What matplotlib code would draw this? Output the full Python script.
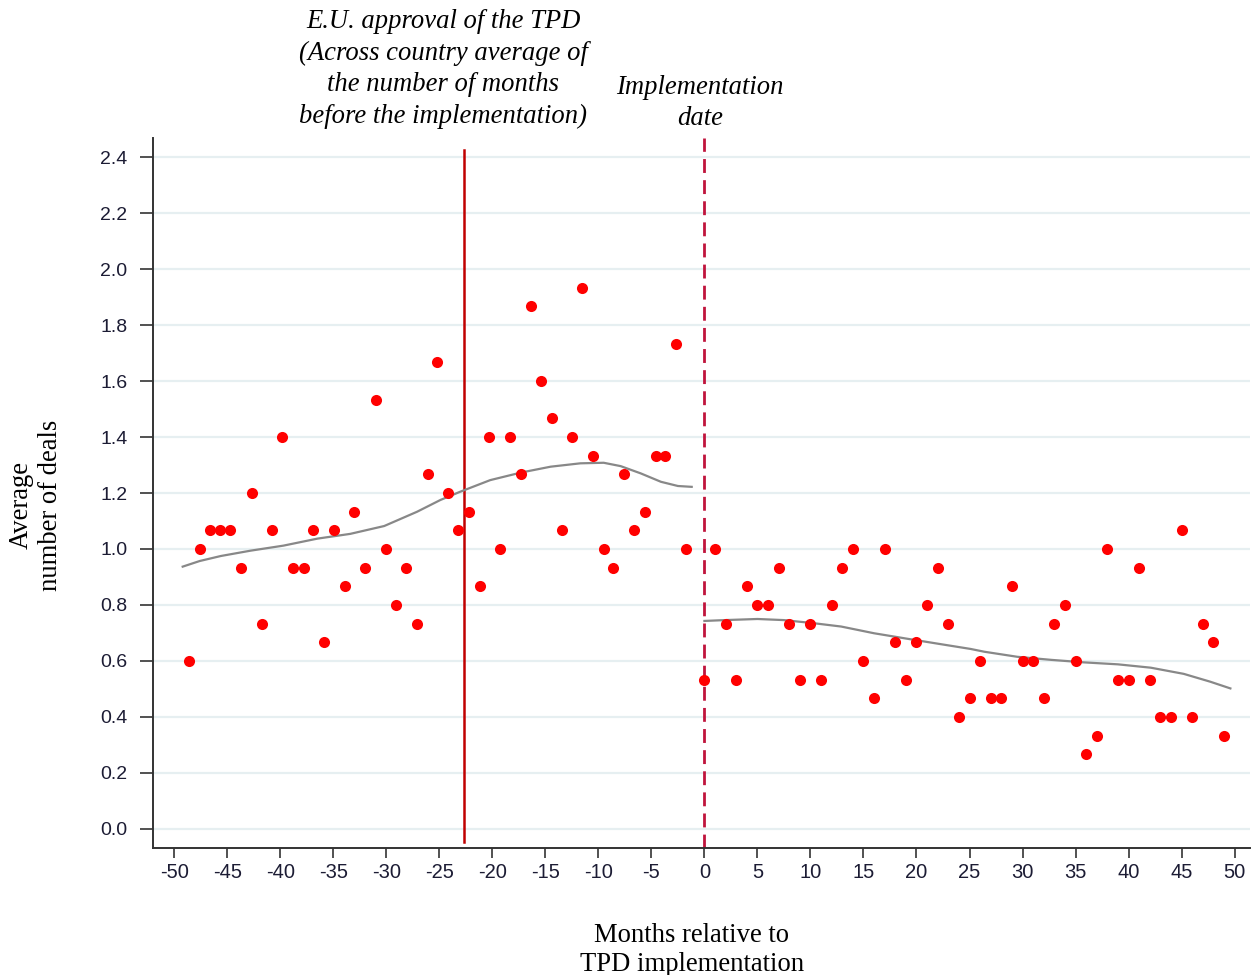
"""
Average number of deals around the TPD implementation date:
monthly scatter with a smoothed fit on each side of the cut-off.
"""

import matplotlib

matplotlib.use("Agg")
import matplotlib.pyplot as plt

# --- data ------------------------------------------------------------------
# months before implementation (left of the cut-off)
pre_months = [
    -48.6, -47.6, -46.6, -45.7, -44.7, -43.7, -42.7, -41.7, -40.8, -39.8,
    -38.8, -37.8, -36.9, -35.9, -34.9, -33.9, -33.0, -32.0, -31.0, -30.0,
    -29.1, -28.1, -27.1, -26.1, -25.2, -24.2, -23.2, -22.2, -21.2, -20.3,
    -19.3, -18.3, -17.3, -16.4, -15.4, -14.4, -13.4, -12.5, -11.5, -10.5,
    -9.5, -8.6, -7.6, -6.6, -5.6, -4.6, -3.7, -2.7, -1.7,
]
pre_deals = [
    0.600, 1.000, 1.067, 1.067, 1.067, 0.933, 1.200, 0.733, 1.067, 1.400,
    0.933, 0.933, 1.067, 0.667, 1.067, 0.867, 1.133, 0.933, 1.533, 1.000,
    0.800, 0.933, 0.733, 1.267, 1.667, 1.200, 1.067, 1.133, 0.867, 1.400,
    1.000, 1.400, 1.267, 1.867, 1.600, 1.467, 1.067, 1.400, 1.933, 1.333,
    1.000, 0.933, 1.267, 1.067, 1.133, 1.333, 1.333, 1.733, 1.000,
]

# months after implementation (right of the cut-off)
post_months = list(range(0, 50))
post_deals = [
    0.533, 1.000, 0.733, 0.533, 0.867, 0.800, 0.800, 0.933, 0.733, 0.533,
    0.733, 0.533, 0.800, 0.933, 1.000, 0.600, 0.467, 1.000, 0.667, 0.533,
    0.667, 0.800, 0.933, 0.733, 0.400, 0.467, 0.600, 0.467, 0.467, 0.867,
    0.600, 0.600, 0.467, 0.733, 0.800, 0.600, 0.267, 0.333, 1.000, 0.533,
    0.533, 0.933, 0.533, 0.400, 0.400, 1.067, 0.400, 0.733, 0.667, 0.333,
]

# smoothed fits (traced)
pre_fit_x = [-49.2, -47.6, -45.6, -42.8, -39.7, -36.5, -33.4, -30.2, -27.1,
             -24.9, -23.0, -20.2, -17.3, -14.5, -11.7, -9.5, -7.9, -6.0,
             -4.1, -2.5, -1.2]
pre_fit_y = [0.937, 0.957, 0.975, 0.994, 1.012, 1.037, 1.054, 1.082, 1.133,
             1.175, 1.205, 1.246, 1.273, 1.294, 1.306, 1.308, 1.296, 1.270,
             1.240, 1.225, 1.222]
post_fit_x = [0.0, 1.9, 5.0, 7.5, 10.3, 12.9, 16.0, 19.2, 22.3, 25.1, 26.4,
              29.5, 32.7, 35.8, 39.0, 42.1, 45.2, 47.7, 49.6]
post_fit_y = [0.743, 0.746, 0.750, 0.746, 0.735, 0.723, 0.699, 0.679, 0.660,
              0.643, 0.633, 0.615, 0.604, 0.595, 0.588, 0.576, 0.554, 0.526,
              0.502]

approval_month = -22.7
implementation_month = 0

x_ticks = list(range(-50, 51, 5))
y_ticks = [0.0, 0.2, 0.4, 0.6, 0.8, 1.0, 1.2, 1.4, 1.6, 1.8, 2.0, 2.2, 2.4]

# --- figure -----------------------------------------------------------------
W, H = 1252, 975
plt.rcParams["axes.unicode_minus"] = False
fig = plt.figure(figsize=(W / 100, H / 100), dpi=100)
ax = fig.add_axes([153 / W, 1 - 848 / H, (1250 - 153) / W, (848 - 138) / H])

ax.set_xlim(-52.0, 51.45)
ax.set_ylim(-0.068, 2.468)

for yv in y_ticks:
    ax.axhline(yv, color="#e6eff1", lw=1.6, zorder=0)

ax.plot(pre_fit_x, pre_fit_y, color="#888888", lw=1.6, zorder=2)
ax.plot(post_fit_x, post_fit_y, color="#888888", lw=1.6, zorder=2)
ax.plot(pre_months, pre_deals, "o", color="#ff0000", ms=8, mec="none", zorder=3)
ax.plot(post_months, post_deals, "o", color="#ff0000", ms=8, mec="none", zorder=3)

ax.plot([approval_month, approval_month], [-0.046, 2.425], color="#c00000", lw=1.8, zorder=1)
ax.axvline(implementation_month, color="#c0143c", lw=2.0, ls=(0, (5, 2.6)), zorder=1)

for side in ("top", "right"):
    ax.spines[side].set_visible(False)
for side in ("left", "bottom"):
    ax.spines[side].set_color("#333333")
    ax.spines[side].set_linewidth(1.4)

ax.set_yticks(y_ticks)
ax.set_yticklabels([f"{v:.1f}" for v in y_ticks])
ax.set_xticks(x_ticks)
ax.set_xticklabels([str(v) for v in x_ticks])
ax.tick_params(axis="y", length=9.5, width=1.2, pad=9, color="#333333",
               labelsize=14, labelcolor="#1c1c34")
ax.tick_params(axis="x", length=7.5, width=1.2, pad=3, color="#333333",
               labelsize=14.5, labelcolor="#1c1c34")
for lab in ax.get_xticklabels() + ax.get_yticklabels():
    lab.set_family("Liberation Sans")

serif = "Liberation Serif"
fs = 19.2
fig.text(443 / W, 1 - 69 / H,
         "E.U. approval of the TPD\n(Across country average of\n"
         "the number of months\nbefore the implementation)",
         ha="center", va="center", family=serif, style="italic",
         fontsize=fs, linespacing=1.34)
fig.text(700 / W, 1 - 103 / H, "Implementation\ndate",
         ha="center", va="center", family=serif, style="italic",
         fontsize=fs, linespacing=1.34)
fig.text(36 / W, 1 - 505 / H, "Average\nnumber of deals",
         ha="center", va="center", rotation=90, family=serif,
         fontsize=fs, linespacing=1.2)
fig.text(692 / W, 1 - 950 / H, "Months relative to\nTPD implementation",
         ha="center", va="center", family=serif,
         fontsize=fs, linespacing=1.25)

fig.savefig("out.png", dpi=100)
